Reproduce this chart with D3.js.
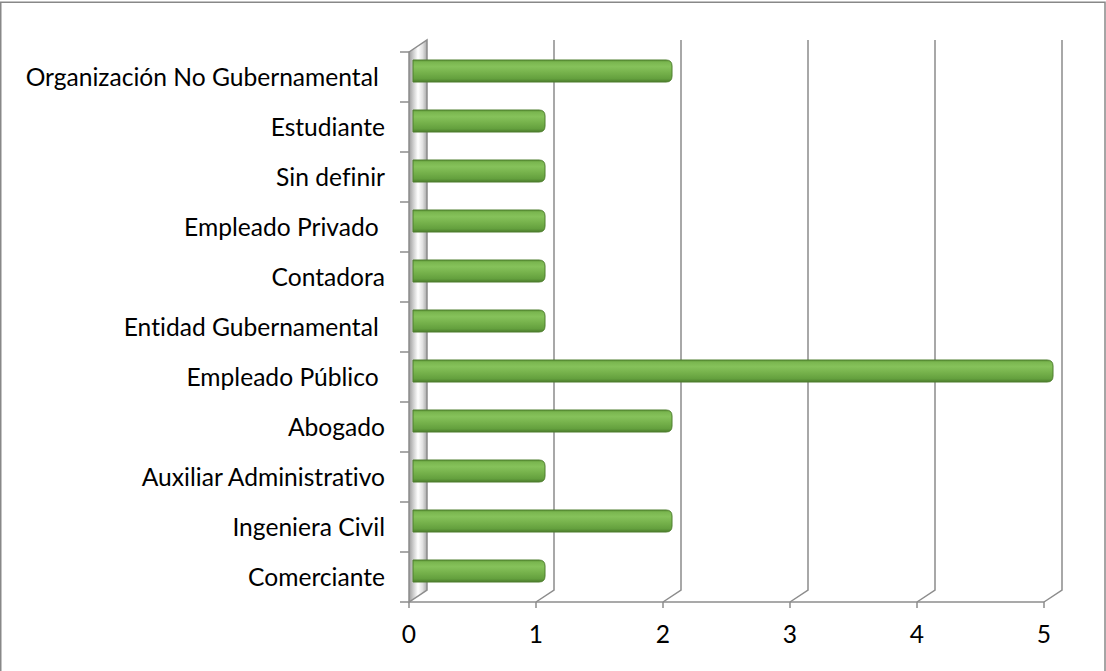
<!DOCTYPE html>
<html><head><meta charset="utf-8">
<script src="https://cdn.jsdelivr.net/npm/d3@7"></script>
<style>body{margin:0;background:#fff}svg{display:block}text{font-family:Lato,"Open Sans",sans-serif;white-space:pre;font-variant-ligatures:none;font-feature-settings:"liga" 0,"clig" 0}</style>
</head><body>
<svg id="c" width="1106" height="671"></svg>
<script>
// categories top to bottom
const categories = ["Organización No Gubernamental ","Estudiante","Sin definir","Empleado Privado ","Contadora","Entidad Gubernamental ","Empleado Público ","Abogado","Auxiliar Administrativo","Ingeniera Civil","Comerciante"];
const values = [2,1,1,1,1,1,5,2,1,2,1];
const xTicks = [0,1,2,3,4,5];

const svg = d3.select("#c");
const W=1106,H=671;
const dx=18, dy=-12;
const x = d3.scaleLinear().domain([0,5]).range([409,1044]);
const y = d3.scaleBand().domain(categories).range([52,602]).padding(0);
const y0 = y.range()[0], y1 = y.range()[1];
const fs = 24.6;

const defs = svg.append("defs");
const wg = defs.append("linearGradient").attr("id","wall").attr("x1","0").attr("x2","1").attr("y1","0").attr("y2","0");
[[0,"#9c9c9c"],[0.25,"#cfcfcf"],[0.5,"#ffffff"],[0.75,"#e2e2e2"],[1,"#a8a8a8"]].forEach(s=>wg.append("stop").attr("offset",s[0]).attr("stop-color",s[1]));
const bg = defs.append("linearGradient").attr("id","bar").attr("x1","0").attr("x2","0").attr("y1","0").attr("y2","1");
[[0,"#5d9636"],[0.1,"#7ab650"],[0.3,"#86c25b"],[0.6,"#74b04a"],[0.85,"#64a03e"],[1,"#4c7d2c"]].forEach(s=>bg.append("stop").attr("offset",s[0]).attr("stop-color",s[1]));

// frame
svg.append("rect").attr("x",0.75).attr("y",2.25).attr("width",W-1.75).attr("height",H+10)
  .attr("fill","none").attr("stroke","#888").attr("stroke-width",1.5);

const gc = "#8c8c8c";
// left wall
const X0 = x(0);
svg.append("path").attr("d",`M${X0},${y0}L${X0+dx},${y0+dy}L${X0+dx},${y1+dy}L${X0},${y1}Z`)
  .attr("fill","url(#wall)").attr("stroke",gc).attr("stroke-width",1.5);

// gridlines
xTicks.filter(t=>t>0).forEach(t=>{
  const xx = x(t);
  svg.append("path").attr("d",`M${xx+dx},${y0+dy}L${xx+dx},${y1+dy}L${xx},${y1}`)
    .attr("fill","none").attr("stroke",gc).attr("stroke-width",1.5);
});
// floor front line
svg.append("line").attr("x1",x(0)).attr("x2",x(5)).attr("y1",y1).attr("y2",y1).attr("stroke",gc).attr("stroke-width",1.5);
// bottom ticks
xTicks.forEach(t=>svg.append("line").attr("x1",x(t)).attr("x2",x(t)).attr("y1",y1).attr("y2",y1+6).attr("stroke",gc).attr("stroke-width",1.5));
// left ticks
const bounds = categories.map(c=>y(c)).concat([y1]);
bounds.forEach(b=>svg.append("line").attr("x1",X0-9).attr("x2",X0).attr("y1",b).attr("y2",b).attr("stroke",gc).attr("stroke-width",1.5));

// bars
const bh = 22;
categories.forEach((c,i)=>{
  const cy = y(c)+y.bandwidth()/2 + dy/2;
  const xs = X0+4, xe = x(values[i])+dx/2;
  const r = 6;
  svg.append("path").attr("d",
    `M${xs},${cy-bh/2}L${xe-r},${cy-bh/2}Q${xe},${cy-bh/2} ${xe},${cy-bh/2+r}L${xe},${cy+bh/2-r}Q${xe},${cy+bh/2} ${xe-r},${cy+bh/2}L${xs},${cy+bh/2}Z`)
    .attr("fill","url(#bar)").attr("stroke","#4f7f2e").attr("stroke-width",1);
});

// category labels
categories.forEach(c=>{
  svg.append("text").attr("x",385).attr("y",y(c)+y.bandwidth()/2+9)
    .attr("text-anchor","end").attr("font-size",fs).attr("fill","#000").text(c);
});
// x labels
xTicks.forEach(t=>svg.append("text").attr("x",x(t)).attr("y",643)
  .attr("text-anchor","middle").attr("font-size",fs).attr("fill","#000").text(t));
</script>
</body></html>
